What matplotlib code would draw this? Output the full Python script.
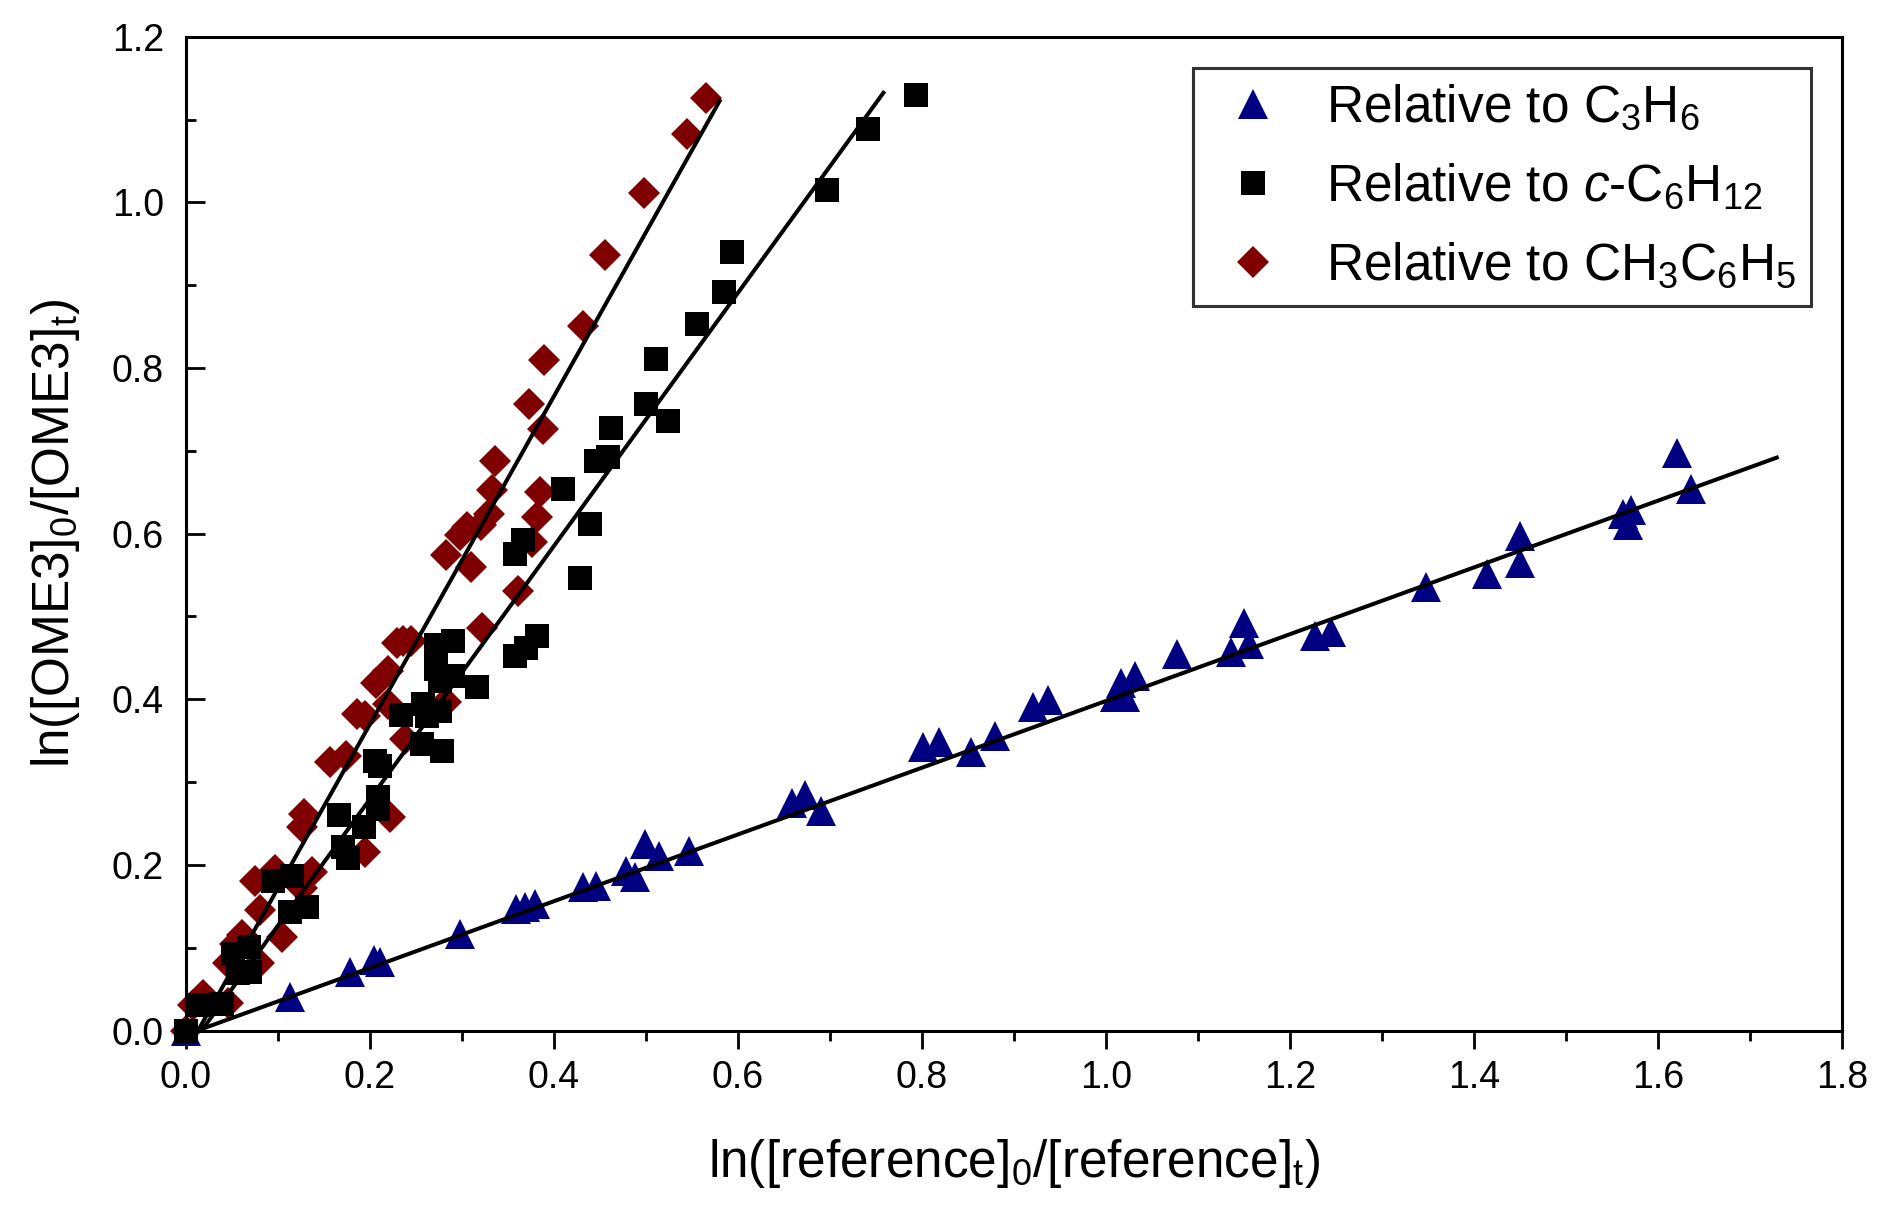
import numpy as np
import matplotlib
matplotlib.use("Agg")
import matplotlib.pyplot as plt
from matplotlib.ticker import MultipleLocator, FormatStrFormatter

plt.rcParams['font.family'] = ['Liberation Sans', 'DejaVu Sans']
plt.rcParams['mathtext.fontset'] = 'custom'
plt.rcParams['mathtext.rm'] = 'Liberation Sans'
plt.rcParams['mathtext.it'] = 'Liberation Sans:italic'

# relative to C3H6 (triangles)
c3h6_x = [0.0, 0.113, 0.178, 0.204, 0.211, 0.298, 0.359, 0.368, 0.379, 0.432, 0.446,
          0.478, 0.488, 0.499, 0.514, 0.547, 0.659, 0.673, 0.690, 0.801, 0.819, 0.853,
          0.879, 0.921, 0.937, 1.010, 1.016, 1.021, 1.031, 1.077, 1.136, 1.150, 1.155,
          1.227, 1.245, 1.348, 1.414, 1.450, 1.450, 1.562, 1.567, 1.571, 1.621, 1.636]
c3h6_y = [0.0, 0.041, 0.071, 0.085, 0.083, 0.117, 0.147, 0.149, 0.153, 0.173, 0.175,
          0.193, 0.186, 0.225, 0.211, 0.217, 0.275, 0.284, 0.265, 0.342, 0.349, 0.336,
          0.356, 0.391, 0.399, 0.403, 0.420, 0.403, 0.428, 0.455, 0.457, 0.492, 0.467,
          0.476, 0.481, 0.535, 0.551, 0.597, 0.564, 0.624, 0.610, 0.629, 0.697, 0.654]

# relative to c-C6H12 (squares)
c6h12_x = [0.0, 0.015, 0.039, 0.051, 0.068, 0.057, 0.070, 0.095, 0.115, 0.113, 0.131,
           0.166, 0.193, 0.171, 0.176, 0.205, 0.211, 0.209, 0.209, 0.234, 0.256, 0.278,
           0.258, 0.276, 0.262, 0.272, 0.290, 0.276, 0.272, 0.290, 0.316, 0.358, 0.370,
           0.381, 0.358, 0.366, 0.410, 0.428, 0.439, 0.446, 0.459, 0.462, 0.500, 0.524,
           0.511, 0.555, 0.585, 0.594, 0.697, 0.741, 0.793]
c6h12_y = [0.0, 0.031, 0.032, 0.093, 0.101, 0.069, 0.071, 0.181, 0.187, 0.143, 0.149,
           0.260, 0.246, 0.222, 0.208, 0.326, 0.320, 0.282, 0.268, 0.381, 0.346, 0.338,
           0.394, 0.386, 0.380, 0.436, 0.428, 0.422, 0.466, 0.470, 0.415, 0.452, 0.462,
           0.476, 0.576, 0.592, 0.654, 0.546, 0.612, 0.688, 0.692, 0.727, 0.757, 0.736,
           0.811, 0.853, 0.892, 0.940, 1.015, 1.088, 1.130]

# relative to CH3C6H5 (diamonds)
toluene_x = [0.0, 0.008, 0.019, 0.046, 0.046, 0.079, 0.061, 0.053, 0.104, 0.080, 0.075,
             0.097, 0.126, 0.137, 0.126, 0.128, 0.195, 0.222, 0.157, 0.174, 0.186, 0.195,
             0.238, 0.220, 0.283, 0.207, 0.220, 0.229, 0.236, 0.245, 0.322, 0.361, 0.283,
             0.298, 0.305, 0.321, 0.310, 0.376, 0.381, 0.385, 0.329, 0.333, 0.336, 0.388,
             0.373, 0.389, 0.431, 0.455, 0.498, 0.545, 0.565]
toluene_y = [0.0, 0.031, 0.043, 0.033, 0.081, 0.081, 0.115, 0.105, 0.113, 0.145, 0.180,
             0.194, 0.172, 0.192, 0.246, 0.262, 0.215, 0.258, 0.324, 0.332, 0.382, 0.380,
             0.352, 0.394, 0.397, 0.420, 0.434, 0.468, 0.470, 0.470, 0.486, 0.531, 0.574,
             0.598, 0.608, 0.610, 0.560, 0.590, 0.620, 0.650, 0.624, 0.653, 0.688, 0.726,
             0.756, 0.810, 0.851, 0.937, 1.011, 1.083, 1.126]

# linear fits: slope, intercept, x start, x end
fit_slope = [0.403, 1.528, 1.98]
fit_icpt = [-0.005, -0.026, -0.026]
fit_x0 = [0.012, 0.017, 0.013]
fit_x1 = [1.729, 0.758, 0.580]

navy = '#000080'
darkred = '#7f0000'

fig = plt.figure(figsize=(18.92, 12.11), dpi=100)
ax = fig.add_axes([0.0983, 0.149, 0.8753, 0.8207])

ax.plot(toluene_x, toluene_y, 'D', color=darkred, ms=16, mew=0, ls='none',
        clip_on=False, zorder=2, label=r'Relative to CH$_3$C$_6$H$_5$')
ax.plot(c3h6_x, c3h6_y, '^', color=navy, ms=22, mew=0, ls='none',
        clip_on=False, zorder=2.5, label=r'Relative to C$_3$H$_6$')
ax.plot(c6h12_x, c6h12_y, 's', color='black', ms=17, mew=0, ls='none',
        clip_on=False, zorder=3, label=r'Relative to $c$-C$_6$H$_{12}$')

for k in range(3):
    xx = np.array([fit_x0[k], fit_x1[k]])
    ax.plot(xx, fit_slope[k] * xx + fit_icpt[k], color='black', lw=2.9, zorder=4)

ax.set_xlim(0, 1.8)
ax.set_ylim(0, 1.2)
ax.xaxis.set_major_locator(MultipleLocator(0.2))
ax.xaxis.set_minor_locator(MultipleLocator(0.1))
ax.yaxis.set_major_locator(MultipleLocator(0.2))
ax.yaxis.set_minor_locator(MultipleLocator(0.1))
ax.xaxis.set_major_formatter(FormatStrFormatter('%.1f'))
ax.yaxis.set_major_formatter(FormatStrFormatter('%.1f'))
ax.tick_params(axis='x', which='major', direction='out', length=13, width=2, labelsize=27, pad=8)
ax.tick_params(axis='x', which='minor', direction='out', length=7, width=2)
ax.tick_params(axis='y', which='major', direction='in', length=14, width=2, labelsize=27, pad=16)
ax.tick_params(axis='y', which='minor', direction='in', length=7, width=2)
for s in ax.spines.values():
    s.set_linewidth(2.2)

ax.set_xlabel(r'ln([reference]$_0$/[reference]$_\mathrm{t}$)', fontsize=37, labelpad=30)
ax.set_ylabel(r'ln([OME3]$_0$/[OME3]$_\mathrm{t}$)', fontsize=37, labelpad=21)

h, l = ax.get_legend_handles_labels()
order = [1, 2, 0]
leg = ax.legend([h[i] for i in order], [l[i] for i in order], loc='upper right',
                fontsize=37, frameon=True, fancybox=False, edgecolor='black',
                borderaxespad=0.6, handletextpad=0.57, labelspacing=0.57,
                borderpad=0.3, handlelength=1.7)
leg.get_frame().set_linewidth(2.2)

fig.savefig('out.png', dpi=100)
